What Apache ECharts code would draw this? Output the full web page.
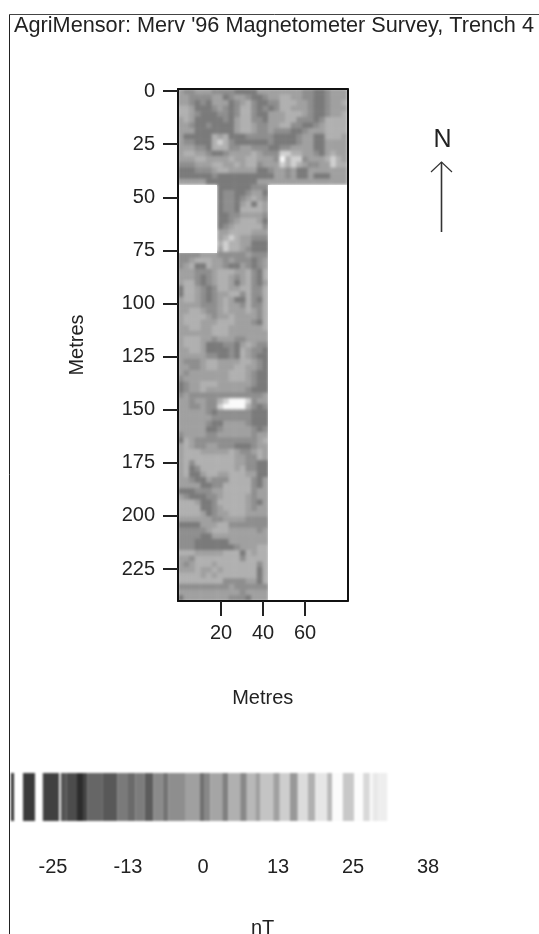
<!DOCTYPE html>
<html><head><meta charset="utf-8">
<style>html,body{margin:0;padding:0;background:#fff;overflow:hidden}#c{width:539px;height:934px;filter:blur(0.4px)}
canvas[data-zr-dom-id="zr_1"]{filter:blur(1.8px);clip-path:polygon(178px 89px,348px 89px,348px 185px,268px 185px,268px 601px,178px 601px,178px 253px,217px 253px,217px 185px,178px 185px)}
canvas[data-zr-dom-id="zr_3"]{filter:blur(1px)}
</style>
<script src="https://cdn.jsdelivr.net/npm/echarts@6/dist/echarts.min.js"></script>
</head><body><div id="c"></div>
<script>
// Digit = contour band; bandNT = estimated nT of each band.
const bandNT = [-8, -5, -2, 2, 10, 24];
const bandColors = ['#7a7a7a', '#8e8e8e', '#a0a0a0', '#b0b0b0', '#d0d0d0', '#fafafa'];
const bandLimits = [-6.5, -3.5, 0, 6, 17];

// Rows 0-16: full width, 30 columns
const topBlock = [
"322333222211113333333322112333",
"332222331233211233443322112333",
"332121333123421122444332112334",
"443111232124421212443332112333",
"443211122124421133344432112334",
"343111112134422133344222124444",
"332112111134432233442211234444",
"333111111134432232221123334444",
"311111434111222221111233114443",
"322111454211111121111233113333",
"333221444223322211223333113333",
"344332112333343222554433213433",
"333443333433443332645523334543",
"222333443343442333545432233544",
"111222344333331123323113333333",
"111111211111111113323113111333",
"333331111111113333333333333333"];

// Rows 17-28: columns 7-15
const middleBlock = [
"111111222","122112331","122123432","122134143","122144443","112233332",
"112344431","123444442","334444333","345433222","454433111","354432111"];

// Rows 29-90: columns 0-15
const lowerBlock = [
"2222333222223222","2234443323222123","2341143321132123","3332223444334214",
"3332123443234214","3442123443134213","1443212443344224","1443212334424224",
"3443212343114214","3333222343324224","3344322343334324","3444432334333324",
"3444333444333214","3344334443333334","3333334443333333","3444332333223333",
"3444311122134322","3344311112143221","3333322112143211","3222344333344321",
"3322344333443321","3233333334443211","2333333334443211","1233444333333211",
"1233433333332111","2322222222222223","3323322456665233","3322322566664212",
"3333321222222111","3333332222222111","3333321133332111","3333311233333212",
"2333322333333233","1432222222222234","3432233222111233","3444333334322343",
"3444444444332243","3424444444332211","3412444444342211","3411344334443311",
"3321132224444213","3333112244444213","1112223344444233","3211122344443233",
"4443112444443213","4444112344443233","4444312334443333","3333332233332222",
"1111333442222222","2222234443333323","2222113333333333","2221111113333333",
"2221111111233344","4443333344414344","3324444444424444","3234443444444424",
"3334334344444414","4444343444444414","4444444422223314","2222222223222222",
"3333333333323333","1333333332221333"];

const yTicks = [0, 25, 50, 75, 100, 125, 150, 175, 200, 225];
const xTicks = [20, 40, 60];

// Colour strip
const stripEdges = [-32,-31.5,-30,-28,-26.7,-24,-23.7,-22.7,-21,-20,-19.3,-16.8,-14.3,-12.5,-11.3,-9.7,-8.3,-6.7,-5.8,-3,-0.5,0.3,1.2,3.2,4.2,6.2,7.3,8.7,9.5,11.7,12.8,14.5,15.8,17.5,18.7,20.7,21.5,23.3,25.2,26.7,27.8,28.3,29.2,30.7];
const stripShades = [51,255,58,255,64,255,85,76,44,68,102,88,122,106,124,92,138,116,142,160,112,136,165,128,176,136,184,160,196,160,206,152,220,176,230,184,251,200,252,216,248,232,238];
const scaleTicks = [-25, -12.5, 0, 12.5, 25, 37.5];
const scaleLabels = ['-25', '-13', '0', '13', '25', '38'];

const FONT = '"Liberation Sans", Arial, sans-serif';
const TXT = '#222';
const FS = 20;
const nCols = 30, nRows = 91;
const cells = [];
const addRows = (rows, r0, c0) => rows.forEach((s, r) => {
  for (let i = 0; i < s.length; i++) cells.push([c0 + i, r0 + r, bandNT[+s[i] - 1]]);
});
addRows(topBlock, 0, 0);
addRows(middleBlock, 17, 7);
addRows(lowerBlock, 29, 0);

const stripData = stripShades.map((s, i) => [stripEdges[i], stripEdges[i + 1], s]);
const pieces = bandColors.map((color, i) => {
  const p = { color };
  if (i > 0) p.gt = bandLimits[i - 1];
  if (i < bandLimits.length) p.lte = bandLimits[i];
  return p;
});
const hiddenCat = n => ({ type: 'category', show: false, data: Array.from({ length: n }, (_, i) => i) });
const lineOnly = { lineStyle: { color: '#111', width: 2 } };
const plain = (size) => ({ fontFamily: FONT, fontWeight: 'normal', fontSize: size, color: TXT });

const chart = echarts.init(document.getElementById('c'), null, { renderer: 'canvas' });
chart.setOption({
  animation: false,
  backgroundColor: '#fff',
  textStyle: { fontFamily: FONT },
  title: [
    { text: "AgriMensor: Merv '96 Magnetometer Survey, Trench 4", left: 14, top: 15, padding: 0, textStyle: plain(21.7) },
    { text: 'nT', left: 251, top: 918, padding: 0, textStyle: plain(FS) },
    { text: 'N', left: 433.5, top: 128, padding: 0, textStyle: plain(25) }
  ],
  grid: [
    { left: 178, top: 89, width: 169.5, height: 512 },
    { left: 11, top: 773, width: 420, height: 48 }
  ],
  visualMap: { show: false, type: 'piecewise', seriesIndex: 0, dimension: 2, pieces },
  xAxis: [
    Object.assign(hiddenCat(nCols), { gridIndex: 0 }),
    { type: 'value', gridIndex: 0, position: 'bottom', min: -0.5, max: 80.2, zlevel: 2, z: 5,
      splitLine: { show: false },
      axisLine: { show: true, onZero: false, lineStyle: lineOnly.lineStyle },
      axisTick: { show: true, length: 15, customValues: xTicks, lineStyle: { color: '#222', width: 2 } },
      axisLabel: { show: true, customValues: xTicks, margin: 22, fontSize: FS, color: TXT, fontFamily: FONT },
      name: 'Metres', nameLocation: 'middle', nameGap: 87, nameTextStyle: plain(FS) },
    { type: 'value', gridIndex: 0, position: 'top', min: 0, max: 1, zlevel: 2, z: 5,
      splitLine: { show: false }, axisTick: { show: false }, axisLabel: { show: false },
      axisLine: { show: true, onZero: false, lineStyle: lineOnly.lineStyle } },
    { type: 'value', gridIndex: 1, position: 'bottom', min: -32, max: 38,
      splitLine: { show: false }, axisLine: { show: false }, axisTick: { show: false },
      axisLabel: { show: true, customValues: scaleTicks, margin: 36, fontSize: FS, color: TXT, fontFamily: FONT,
        formatter: v => scaleLabels[scaleTicks.indexOf(v)] } }
  ],
  yAxis: [
    Object.assign(hiddenCat(nRows), { gridIndex: 0, inverse: true }),
    { type: 'value', gridIndex: 0, position: 'left', inverse: true, min: -1, max: 240.05, zlevel: 2, z: 5,
      splitLine: { show: false },
      axisLine: { show: true, onZero: false, lineStyle: lineOnly.lineStyle },
      axisTick: { show: true, length: 15, customValues: yTicks, lineStyle: { color: '#222', width: 2 } },
      axisLabel: { show: true, customValues: yTicks, margin: 23, fontSize: FS, color: TXT, fontFamily: FONT },
      name: 'Metres', nameLocation: 'middle', nameGap: 91, nameTextStyle: plain(FS) },
    { type: 'value', gridIndex: 0, position: 'right', min: 0, max: 1, zlevel: 2, z: 5,
      splitLine: { show: false }, axisTick: { show: false }, axisLabel: { show: false },
      axisLine: { show: true, onZero: false, lineStyle: lineOnly.lineStyle } },
    { type: 'value', gridIndex: 1, min: 0, max: 1, show: false }
  ],
  series: [
    { type: 'heatmap', xAxisIndex: 0, yAxisIndex: 0, data: cells, progressive: 0, zlevel: 1,
      itemStyle: { borderWidth: 0 }, emphasis: { disabled: true } },
    { type: 'custom', xAxisIndex: 3, yAxisIndex: 3, data: stripData, encode: { x: [0, 1] }, zlevel: 3,
      renderItem: (params, api) => {
        const a = api.coord([api.value(0), 1]);
        const b = api.coord([api.value(1), 0]);
        const s = api.value(2);
        return { type: 'rect', shape: { x: a[0], y: a[1], width: b[0] - a[0], height: b[1] - a[1] },
          style: { fill: `rgb(${s},${s},${s})` } };
      } }
  ],
  graphic: [
    { type: 'line', silent: true, shape: { x1: 9.5, y1: 14.5, x2: 539, y2: 14.5 }, style: { stroke: '#444', lineWidth: 1 } },
    { type: 'line', silent: true, shape: { x1: 9.5, y1: 14.5, x2: 9.5, y2: 934 }, style: { stroke: '#222', lineWidth: 1 } },
    { type: 'line', silent: true, shape: { x1: 441.5, y1: 232, x2: 441.5, y2: 162 }, style: { stroke: '#333', lineWidth: 1.6 } },
    { type: 'polyline', silent: true, shape: { points: [[431, 172], [441.5, 162], [452, 172]] }, style: { stroke: '#333', fill: 'none', lineWidth: 1.2 } }
  ]
});
</script></body></html>
